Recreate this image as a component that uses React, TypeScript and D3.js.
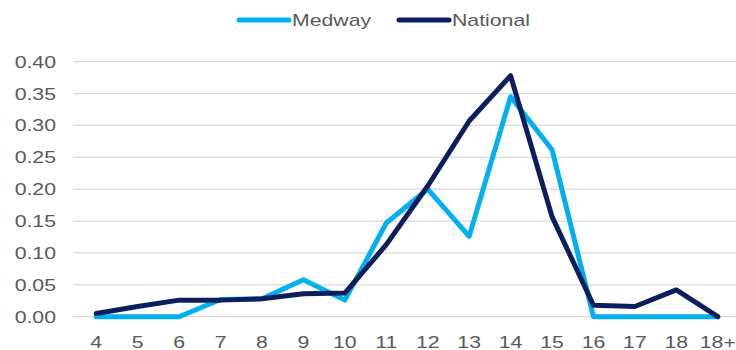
import React from "react";
import * as d3 from "d3";

const categories = ["4","5","6","7","8","9","10","11","12","13","14","15","16","17","18","18+"];
const medway = [0.0,0.0,0.0,0.027,0.028,0.058,0.026,0.147,0.2,0.126,0.345,0.262,0.0,0.0,0.0,0.0];
const national = [0.005,0.016,0.026,0.026,0.028,0.036,0.037,0.113,0.205,0.307,0.378,0.157,0.018,0.016,0.042,0.0];
const yTicks = [0,0.05,0.1,0.15,0.2,0.25,0.3,0.35,0.4];
const seriesNames = ["Medway","National"];
const colors = ["#00B0F0","#0B1F5E"];

const font = "Arial, 'Liberation Sans', sans-serif";
const SX = 1.25;

function T({ x, y, anchor, size, children }: { x: number; y: number; anchor: string; size: number; children: React.ReactNode }) {
  return (
    <text transform={`translate(${x},${y}) scale(${SX},1)`} textAnchor={anchor as any} fontFamily={font} fontSize={size} fill="#595959">{children}</text>
  );
}

export default function App() {
  const W = 736, H = 350;
  const x = d3.scaleBand<string>().domain(categories).range([75.5, 738.5]);
  const y = d3.scaleLinear().domain([0, 0.4]).range([316.7, 61.7]);
  const line = d3.line<number>()
    .x((_, i) => (x(categories[i]) as number) + x.bandwidth() / 2)
    .y(d => y(d));
  const series = [medway, national];
  return (
    <svg width={W} height={H} style={{ position: "absolute", left: 0, top: 0, background: "#fff" }}>
      {yTicks.map(t => (
        <g key={t}>
          <line x1={73} x2={736} y1={y(t)} y2={y(t)} stroke="#d9d9d9" strokeWidth={1.3} />
          <T x={56} y={y(t) + 6} anchor="end" size={17}>{t.toFixed(2)}</T>
        </g>
      ))}
      {categories.map(c => (
        <T key={c} x={(x(c) as number) + x.bandwidth() / 2} y={347.5} anchor="middle" size={17}>{c}</T>
      ))}
      {series.map((s, i) => (
        <path key={i} d={line(s) as string} fill="none" stroke={colors[i]} strokeWidth={5} strokeLinejoin="round" strokeLinecap="round" />
      ))}
      {seriesNames.map((n, i) => {
        const lx = i === 0 ? 239 : 399;
        return (
          <g key={n}>
            <line x1={lx} x2={lx + 50} y1={20} y2={20} stroke={colors[i]} strokeWidth={5} strokeLinecap="round" />
            <T x={lx + 53} y={26} anchor="start" size={17}>{n}</T>
          </g>
        );
      })}
    </svg>
  );
}
